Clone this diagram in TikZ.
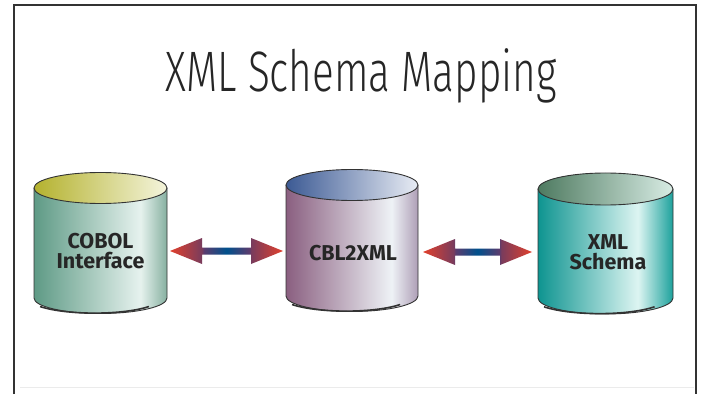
\documentclass[tikz,border=0pt]{standalone}
\usepackage{fontspec}
\setmainfont{Fira Sans}
\newfontfamily\titlefont{Fira Sans Light}
\usetikzlibrary{calc}
\definecolor{frame}{HTML}{333333}
\definecolor{txt}{HTML}{262626}
% left cylinder
\definecolor{la1}{HTML}{5E9A85}\definecolor{la2}{HTML}{E6F2EE}\definecolor{la3}{HTML}{86B0A0}
\definecolor{lt1}{HTML}{B4B22E}\definecolor{lt2}{HTML}{F4F4DC}
% middle cylinder
\definecolor{ma1}{HTML}{8A5F80}\definecolor{ma2}{HTML}{EEF2F6}\definecolor{ma3}{HTML}{AE9EB6}
\definecolor{mt1}{HTML}{3C5A94}\definecolor{mt2}{HTML}{E8ECF4}
% right cylinder
\definecolor{ra1}{HTML}{0E9490}\definecolor{ra2}{HTML}{DDF5F2}\definecolor{ra3}{HTML}{1CA19C}
\definecolor{rt1}{HTML}{4E7A60}\definecolor{rt2}{HTML}{D8ECE4}
% arrows
\definecolor{ar1}{HTML}{E2402C}\definecolor{ar2}{HTML}{7A3C5C}\definecolor{ar3}{HTML}{5A3C6E}\definecolor{ar4}{HTML}{00508C}
\pgfdeclarehorizontalshading{bodyL}{100bp}{color(0bp)=(la1); color(25bp)=(la1); color(65bp)=(la2); color(75bp)=(la3); color(100bp)=(la3)}
\pgfdeclarehorizontalshading{topL}{100bp}{color(0bp)=(lt1); color(25bp)=(lt1); color(75bp)=(lt2); color(100bp)=(lt2)}
\pgfdeclarehorizontalshading{bodyM}{100bp}{color(0bp)=(ma1); color(25bp)=(ma1); color(65bp)=(ma2); color(75bp)=(ma3); color(100bp)=(ma3)}
\pgfdeclarehorizontalshading{topM}{100bp}{color(0bp)=(mt1); color(25bp)=(mt1); color(75bp)=(mt2); color(100bp)=(mt2)}
\pgfdeclarehorizontalshading{bodyR}{100bp}{color(0bp)=(ra1); color(25bp)=(ra1); color(62bp)=(ra2); color(75bp)=(ra3); color(100bp)=(ra3)}
\pgfdeclarehorizontalshading{topR}{100bp}{color(0bp)=(rt1); color(25bp)=(rt1); color(75bp)=(rt2); color(100bp)=(rt2)}
\pgfdeclarehorizontalshading{arrowshade}{100bp}{color(0bp)=(ar1); color(25bp)=(ar1); color(39bp)=(ar2); color(40bp)=(ar3); color(50bp)=(ar4); color(60bp)=(ar3); color(61bp)=(ar2); color(75bp)=(ar1); color(100bp)=(ar1)}
% #1 name, #2 cx, #3 rx, #4 ytop, #5 ybot, #6 ry, #7 body shading, #8 top shading
\newcommand\mycyl[8]{%
  \shade[shading=#7] (#2-#3,#4) -- (#2-#3,#5) arc[start angle=180,end angle=360,x radius=#3,y radius=#6] -- (#2+#3,#4) arc[start angle=0,end angle=180,x radius=#3,y radius=#6] -- cycle;
  \draw[cylline] (#2-#3,#4) -- (#2-#3,#5) arc[start angle=180,end angle=360,x radius=#3,y radius=#6] -- (#2+#3,#4);
  \draw[cylline,line width=1.6pt] (#2-#3+6,#5-#6*0.55) arc[start angle=215,end angle=325,x radius=#3,y radius=#6];
  \shadedraw[shading=#8,cylline] (#2,#4) ellipse[x radius=#3,y radius=#6];
  \coordinate (#1) at (#2,#4);
}
% #1 left tip, #2 right tip
\newcommand\dblarrow[2]{%
  \shade[shading=arrowshade] (#1) -- ($(#1)+(32,13)$) -- ($(#1)+(32,3.5)$) -- ($(#2)+(-32,3.5)$) -- ($(#2)+(-32,13)$) -- (#2) -- ($(#2)+(-32,-13)$) -- ($(#2)+(-32,-3.5)$) -- ($(#1)+(32,-3.5)$) -- ($(#1)+(32,-13)$) -- cycle;
}
\begin{document}
\begin{tikzpicture}[x=1pt,y=1pt,
  cylline/.style={draw=black!80,line width=0.9pt},
  lbl/.style={font=\fontsize{21.5}{20}\selectfont\bfseries,text=txt,align=center,inner sep=0pt},
  framel/.style={draw=frame,line width=2pt}]
\useasboundingbox (0,0) rectangle (706,394);
\fill[white] (0,0) rectangle (706,394);
% frame
\coordinate (f1) at (14,0);
\coordinate (f2) at (14,389);
\coordinate (f3) at (696,389);
\coordinate (f4) at (696,0);
\draw[framel] (f1) -- (f2) -- (f3) -- (f4);
\coordinate (g1) at (20,7);
\coordinate (g2) at (694,7);
\draw[black!8,line width=1pt] (g1) -- (g2);
% title
\node[font=\titlefont\fontsize{57}{60}\selectfont,text=txt,anchor=base] (title) at (361,302) {\scalebox{0.71}[1]{XML Schema Mapping}};
% cylinders
\mycyl{cylA}{100.5}{66.5}{206}{96}{15.5}{bodyL}{topL}
\mycyl{cylB}{352}{66}{209}{98}{15.5}{bodyM}{topM}
\mycyl{cylC}{605.5}{67.5}{205}{96}{16}{bodyR}{topR}
% labels
\node[lbl] (tA) at (100.5,143) {COBOL\\Interface};
\node[lbl] (tB) at (353,141) {CBL2XML};
\node[lbl] (tC) at (608,142) {XML\\Schema};
% arrows
\coordinate (a1l) at (170,143);
\coordinate (a1r) at (283,143);
\coordinate (a2l) at (423,142);
\coordinate (a2r) at (532,142);
\dblarrow{a1l}{a1r}
\dblarrow{a2l}{a2r}
\end{tikzpicture}
\end{document}
